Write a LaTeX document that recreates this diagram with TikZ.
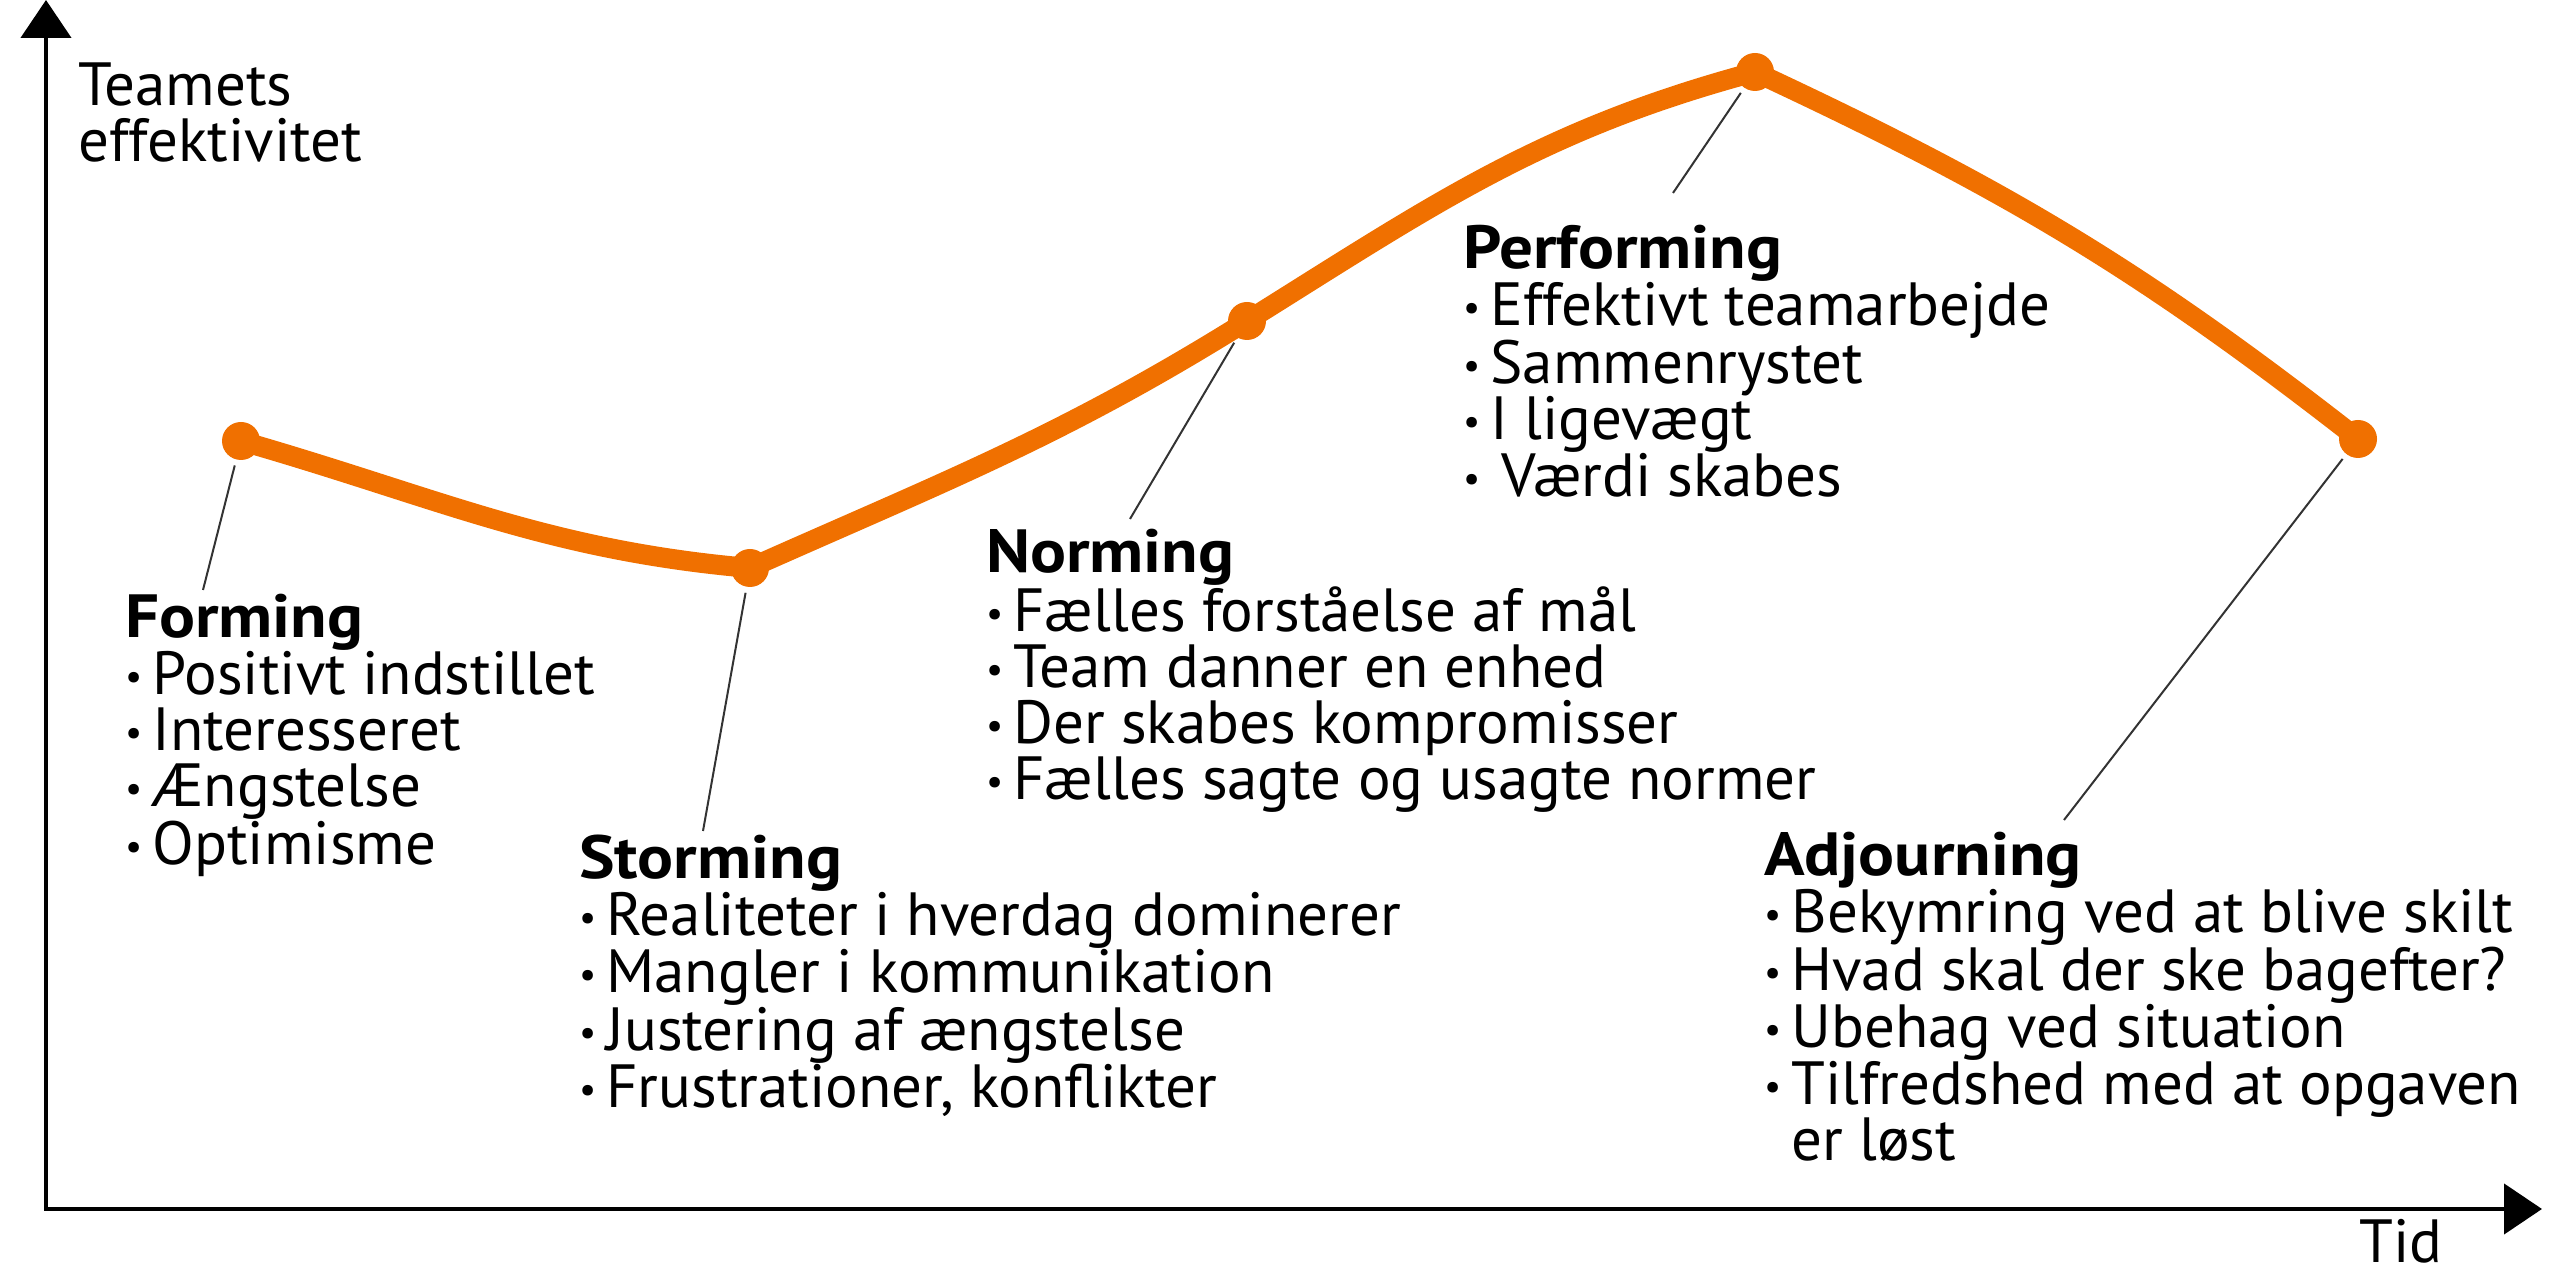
\documentclass[tikz,border=0pt]{standalone}
\usepackage{fontspec}
\setmainfont{PT Sans}[BoldFeatures={FakeStretch=1.1}]
\usetikzlibrary{arrows.meta,positioning}
\definecolor{curveorange}{RGB}{240,112,0}
\newcommand{\bul}[1][10pt]{\raisebox{5pt}{\fontsize{38}{38}\selectfont•}\hspace{#1}}

\begin{document}
\begin{tikzpicture}[x=1pt,y=1pt,
    axis/.style={line width=4.5pt,{Triangle[width=50pt,length=38pt]}-{Triangle[width=50pt,length=38pt]}},
    curve/.style={line width=20pt,curveorange,line cap=round},
    dot/.style={circle,fill=curveorange,inner sep=0pt,minimum size=38pt},
    leader/.style={line width=2pt,black!80,shorten <=6pt},
    stage/.style={anchor=north west,inner sep=0pt,align=left,font=\fontsize{61}{56}\selectfont}]
  \path[use as bounding box] (0,0) rectangle (2552,1277);

  % axes
  \coordinate (ytop) at (46,1277);
  \coordinate (origo) at (46,68);
  \coordinate (xend) at (2542,68);
  \draw[axis] (ytop) -- (origo) -- (xend);
  \node[stage] (yaxis) at (78,1214) {Teamets\\effektivitet};
  \node[font=\fontsize{61}{56}\selectfont,inner sep=0pt] (xaxis) at (2401,36) {Tid};

  % the curve
  \coordinate (f) at (241,836);
  \coordinate (s) at (750,709);
  \coordinate (n) at (1247,956);
  \coordinate (p) at (1755,1205);
  \coordinate (a) at (2358,838);
  \draw[curve] (f) to[out=-16,in=175] (s) to[out=24,in=-148] (n)
    to[out=32,in=-165] (p) to[out=-25,in=142] (a);
  \foreach \pt in {f,s,n,p,a}
    \node[dot] (\pt dot) at (\pt) {};

  % stages
  \node[stage] (forming) at (125,683) {\textbf{Forming}\\\bul Positivt indstillet\\\bul Interesseret\\\bul Ængstelse\\\bul Optimisme};
  \node[stage] (storming) at (579,442) {\textbf{Storming}\\\bul Realiteter i hverdag dominerer\\\bul Mangler i kommunikation\\\bul Justering af ængstelse\\\bul Frustrationer, konflikter};
  \node[stage] (norming) at (986,748) {\textbf{Norming}\\\bul Fælles forståelse af mål\\\bul Team danner en enhed\\\bul Der skabes kompromisser\\\bul Fælles sagte og usagte normer};
  \node[stage] (performing) at (1463,1052) {\textbf{Performing}\\\bul Effektivt teamarbejde\\\bul Sammenrystet\\\bul I ligevægt\\\bul[21pt]Værdi skabes};
  \node[stage] (adjourning) at (1764,445) {\textbf{Adjourning}\\\bul Bekymring ved at blive skilt\\\bul Hvad skal der ske bagefter?\\\bul Ubehag ved situation\\\bul Tilfredshed med at opgaven\\\hphantom{\bul}er løst};

  % leaders
  \coordinate (fleg) at (203,687);
  \coordinate (sleg) at (703,446);
  \coordinate (nleg) at (1130,758);
  \coordinate (pleg) at (1673,1084);
  \coordinate (aleg) at (2064,457);
  \draw[leader] (fdot) -- (fleg);
  \draw[leader] (sdot) -- (sleg);
  \draw[leader] (ndot) -- (nleg);
  \draw[leader] (pdot) -- (pleg);
  \draw[leader] (adot) -- (aleg);
\end{tikzpicture}
\end{document}
